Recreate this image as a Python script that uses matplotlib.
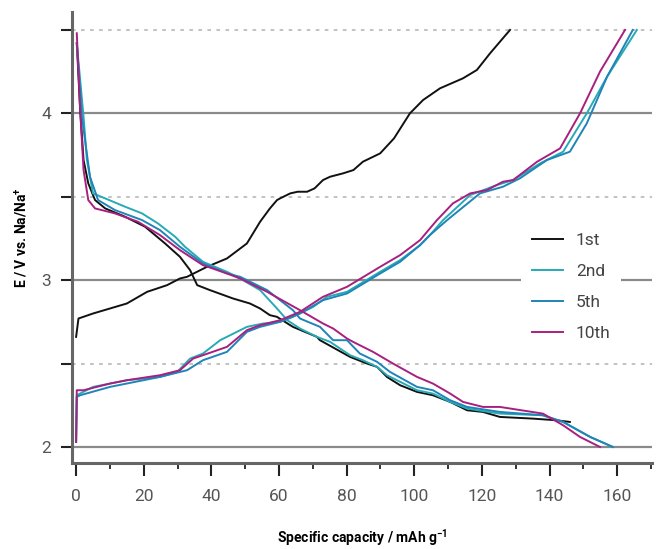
import matplotlib
matplotlib.use("Agg")
import matplotlib.pyplot as plt
from matplotlib.ticker import MultipleLocator, FixedLocator, FuncFormatter

plt.rcParams['font.family'] = ['Roboto', 'DejaVu Sans']

# ---- data ----
c1_x = [0, 0.7, 5, 10, 15, 21, 26.9, 30.7, 32.8, 38.7, 44.6, 50.5, 54.4, 57.3, 59.4, 60.3, 63.3, 65.5, 68.3, 70.5, 73, 75.1, 78.9,
        82, 84.8, 89.9, 94, 98.7, 102.6, 107.6, 114.4, 118.5, 122.4, 128.3]
c1_y = [2.66, 2.77, 2.80, 2.83, 2.86, 2.93, 2.97, 3.01, 3.02, 3.08, 3.13, 3.22, 3.35, 3.43, 3.48, 3.49, 3.52, 3.53, 3.53, 3.55, 3.60,
        3.62, 3.64, 3.66, 3.71, 3.76, 3.85, 4.0, 4.08, 4.15, 4.21, 4.26, 4.36, 4.5]
d1_x = [0.2, 1.2, 2.2, 3.6, 5.6, 8.6, 14.5, 20.4, 26.3, 30.7, 33.7, 35.8, 39.6, 46.4, 51.4, 54.4, 57.3, 59.4, 63.3, 64.1, 71.2, 72.1,
        81, 86, 89, 91.9, 95.8, 100.8, 105.5, 110.6, 115.6, 120.3, 125.3, 135, 142, 146]
d1_y = [4.42, 4.02, 3.72, 3.58, 3.48, 3.43, 3.38, 3.32, 3.22, 3.14, 3.06, 2.97, 2.94, 2.89, 2.86, 2.83, 2.79, 2.78, 2.73, 2.72, 2.66,
        2.64, 2.54, 2.50, 2.48, 2.42, 2.37, 2.33, 2.31, 2.27, 2.22, 2.21, 2.18, 2.17, 2.16, 2.15]

c2_x = [0, 0.2, 5, 15, 24.8, 29.9, 33.7, 37.5, 42.6, 50.5, 55.3, 60.3, 64.1, 70.1, 74.2, 80.1, 89.9, 95.8, 101.7, 104.6, 108.5, 116.5,
        124.4, 129.2, 137.2, 144, 151, 157, 165.8]
c2_y = [2.03, 2.31, 2.36, 2.40, 2.42, 2.45, 2.53, 2.56, 2.64, 2.72, 2.74, 2.75, 2.78, 2.84, 2.90, 2.93, 3.05, 3.12, 3.21, 3.27, 3.36, 3.51,
        3.57, 3.60, 3.70, 3.77, 4.0, 4.22, 4.5]
d2_x = [0.2, 2.2, 3.2, 5, 8.6, 14.5, 19.5, 24.2, 29.3, 32.2, 37.5, 44.6, 48.5, 54.4, 59.4, 62.4, 66.2, 71.2, 75.1, 81, 84.8, 89, 91.9,
        100.8, 105.5, 110.6, 115.6, 125.3, 138, 144, 152, 158.7]
d2_y = [4.42, 3.98, 3.72, 3.52, 3.49, 3.44, 3.40, 3.34, 3.26, 3.20, 3.11, 3.05, 3.01, 2.94, 2.83, 2.76, 2.71, 2.66, 2.63, 2.55, 2.52, 2.48, 2.43,
        2.34, 2.32, 2.27, 2.23, 2.20, 2.19, 2.15, 2.06, 2.0]

c5_x = [0, 0.2, 1.2, 10, 24.8, 32.8, 37.5, 44.6, 50.5, 54.4, 60.3, 66.2, 73, 80.1, 89.9, 95.8, 101.7, 104.6, 109.7, 119.4, 126.2, 131.2,
        139.2, 146, 151, 157, 164.6]
c5_y = [2.03, 2.30, 2.31, 2.36, 2.42, 2.46, 2.52, 2.57, 2.69, 2.72, 2.75, 2.80, 2.88, 2.92, 3.04, 3.11, 3.21, 3.27, 3.36, 3.52, 3.56, 3.61,
        3.72, 3.77, 3.94, 4.22, 4.5]
d5_x = [0.2, 1.7, 4.1, 6.5, 11.5, 19.5, 24.8, 30.7, 37.5, 44.6, 48.5, 56.5, 64.1, 66.2, 72.1, 76, 80.1, 83.9, 89, 92.8, 100.8, 105.5,
        110.6, 115.6, 125.3, 138, 144, 152, 158.7]
d5_y = [4.42, 3.98, 3.62, 3.48, 3.42, 3.36, 3.30, 3.20, 3.10, 3.04, 3.02, 2.94, 2.82, 2.77, 2.72, 2.64, 2.64, 2.56, 2.51, 2.45, 2.36, 2.34,
        2.28, 2.24, 2.21, 2.19, 2.15, 2.06, 2.0]

c10_x = [0, 0.2, 2.2, 10, 15, 24.8, 30.7, 34.6, 37.5, 44.6, 50.5, 54.4, 60.3, 66.2, 73, 80.1, 89.9, 95.8, 101.7, 104.6, 106.7, 111.4,
         116.5, 121.5, 126.2, 129.2, 136.3, 143.1, 149, 154.9, 162.3]
c10_y = [2.03, 2.34, 2.34, 2.38, 2.40, 2.43, 2.46, 2.53, 2.55, 2.60, 2.70, 2.73, 2.76, 2.81, 2.90, 2.96, 3.08, 3.15, 3.24, 3.31, 3.36, 3.46,
         3.52, 3.54, 3.59, 3.60, 3.71, 3.79, 4.0, 4.25, 4.5]
d10_x = [0.2, 1.2, 2.2, 3.6, 5.6, 11.5, 18.3, 24.8, 30.7, 37.5, 44.6, 48.5, 56.5, 58.2, 66.2, 73, 76, 80.1, 81.9, 87.8, 93.7, 100.8, 105.5,
         110.6, 114.4, 120.3, 125.3, 138, 144, 149, 154.9]
d10_y = [4.48, 4.02, 3.66, 3.48, 3.43, 3.40, 3.35, 3.27, 3.18, 3.09, 3.04, 3.01, 2.93, 2.91, 2.82, 2.74, 2.71, 2.65, 2.63, 2.57, 2.50, 2.42, 2.38,
         2.32, 2.27, 2.24, 2.24, 2.20, 2.13, 2.06, 2.0]

labels = ['1st', '2nd', '5th', '10th']
colors = ['#111111', '#27aab5', '#1f84b8', '#a8207f']

fig = plt.figure(figsize=(6.61, 5.49), dpi=100)
ax = fig.add_axes([0.109, 0.157, 0.877, 0.821])

ax.set_xlim(-1.2, 170.2)
ax.set_ylim(1.905, 4.607)

# grid
for yv in [2, 3, 4]:
    ax.axhline(yv, color='#8a8a8a', lw=1.6, zorder=1)
for yv in [2.5, 3.5, 4.5]:
    ax.axhline(yv, color='#bdbdbd', lw=1.3, ls=(0, (2, 3)), zorder=1)

series = [(c1_x, c1_y, d1_x, d1_y), (c2_x, c2_y, d2_x, d2_y), (c5_x, c5_y, d5_x, d5_y), (c10_x, c10_y, d10_x, d10_y)]
for (cx, cy, dx, dy), lab, col in zip(series, labels, colors):
    ax.plot(cx, cy, color=col, lw=1.4, zorder=3, label=lab)
    ax.plot(dx, dy, color=col, lw=1.4, zorder=3)

for s in ['top', 'right']:
    ax.spines[s].set_visible(False)
for s in ['left', 'bottom']:
    ax.spines[s].set_color('#666666')
    ax.spines[s].set_linewidth(2.2)

ax.yaxis.set_major_locator(FixedLocator([2, 2.5, 3, 3.5, 4, 4.5]))
ax.yaxis.set_major_formatter(FuncFormatter(lambda v, p: f"{int(v)}" if abs(v - round(v)) < 1e-6 else ""))
ax.xaxis.set_major_locator(MultipleLocator(20))
ax.xaxis.set_minor_locator(FixedLocator(list(range(10, 171, 20))))
ax.tick_params(axis='y', length=8, width=1.5, color='#222222', labelsize=12.5, labelcolor='#555555', pad=7)
ax.tick_params(axis='x', which='major', length=9, width=1.5, color='#222222', labelsize=12.5, labelcolor='#555555', pad=10)
ax.tick_params(axis='x', which='minor', length=4.5, width=1.3, color='#222222')

ax.set_xlabel('Specific capacity / mAh g$^{\\mathregular{-1}}$', fontsize=10, fontweight='bold')
ax.xaxis.set_label_coords(0.5, -0.143)
ax.set_ylabel('E / V vs. Na/Na$^{\\mathregular{+}}$', fontsize=10, fontweight='bold')
ax.yaxis.set_label_coords(-0.072, 0.5)

leg = ax.legend(loc='center left', bbox_to_anchor=(0.76, 0.39), frameon=True, facecolor='white', edgecolor='none',
                framealpha=1, fontsize=12.5, handlelength=1.8, handletextpad=0.75, labelspacing=0.9, borderpad=0.6)
for t in leg.get_texts():
    t.set_color('#444444')
leg.set_zorder(5)

fig.savefig('out.png', dpi=100)
